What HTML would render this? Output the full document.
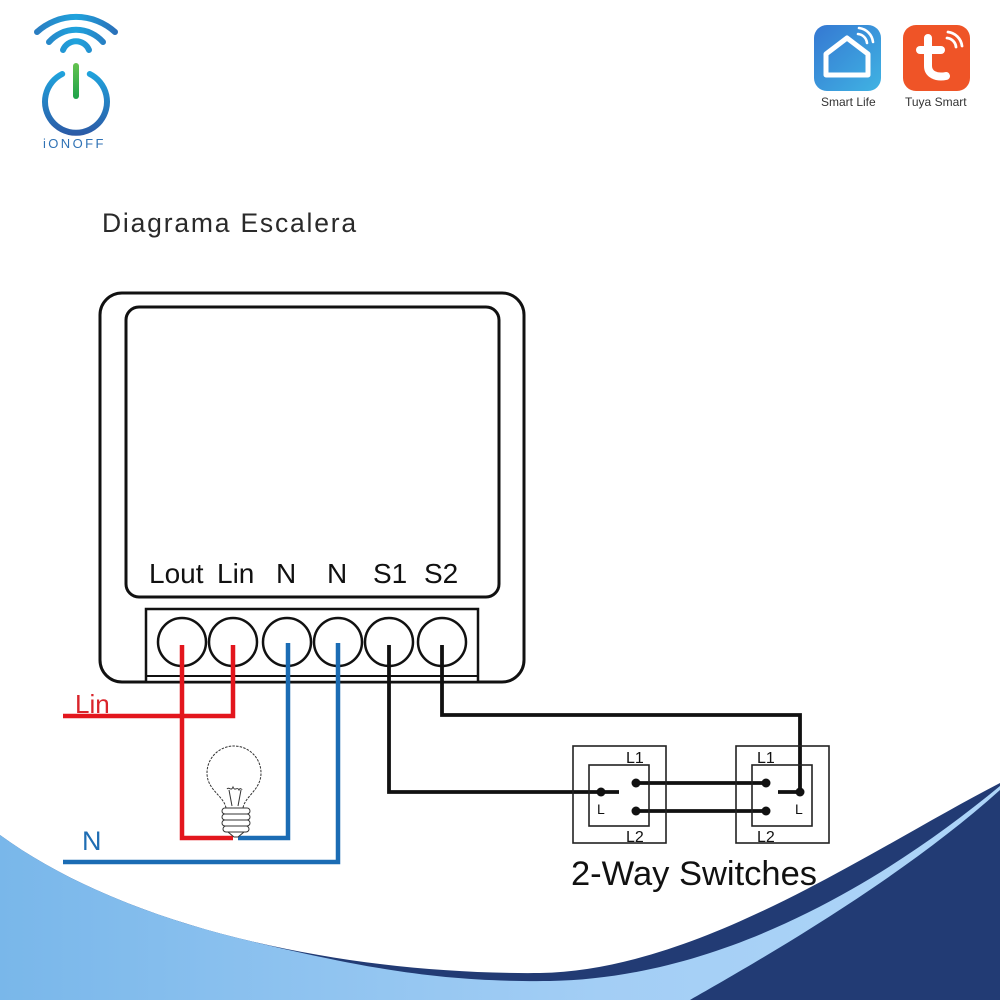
<!DOCTYPE html>
<html>
<head>
<meta charset="utf-8">
<style>
html,body{margin:0;padding:0;background:#fff;}
svg{display:block;}
</style>
</head>
<body>
<svg width="1000" height="1000" viewBox="0 0 1000 1000" xmlns="http://www.w3.org/2000/svg">
<defs>
  <linearGradient id="lb" x1="0" y1="0" x2="1" y2="0">
    <stop offset="0" stop-color="#79b7ea"/>
    <stop offset="0.6" stop-color="#a3cef5"/>
    <stop offset="1" stop-color="#aed5f8"/>
  </linearGradient>
  <linearGradient id="wifi" gradientUnits="userSpaceOnUse" x1="35" y1="0" x2="117" y2="0">
    <stop offset="0" stop-color="#2a7cc0"/>
    <stop offset="0.5" stop-color="#1fa3dd"/>
    <stop offset="1" stop-color="#2a6fb8"/>
  </linearGradient>
  <linearGradient id="ring" gradientUnits="userSpaceOnUse" x1="0" y1="70" x2="0" y2="135">
    <stop offset="0" stop-color="#1fa6df"/>
    <stop offset="1" stop-color="#2b5aa6"/>
  </linearGradient>
  <linearGradient id="grn" gradientUnits="userSpaceOnUse" x1="0" y1="64" x2="0" y2="98">
    <stop offset="0" stop-color="#62c24f"/>
    <stop offset="1" stop-color="#1fa34a"/>
  </linearGradient>
  <linearGradient id="sl" x1="0" y1="0" x2="1" y2="1">
    <stop offset="0" stop-color="#3578d2"/>
    <stop offset="1" stop-color="#40b3e3"/>
  </linearGradient>
</defs>

<!-- bottom background -->
<path d="M0,835 C130,930 350,975 540,973 C700,970 870,850 1000,783 L1000,1000 L0,1000 Z" fill="#223b74"/>
<path d="M0,835 C65,882.5 152.5,917.5 247.5,940.4 C380,972 450,982 550,981 C720,978 880,885 1000,786 L1000,1000 L0,1000 Z" fill="url(#lb)"/>
<path d="M690,1000 C760,960 900,880 1000,790 L1000,1000 Z" fill="#223b74"/>

<!-- iONOFF logo -->
<g fill="none" stroke="url(#wifi)" stroke-width="6" stroke-linecap="round">
  <path d="M37,32 A58,58 0 0 1 115,32"/>
  <path d="M49,42 A36,36 0 0 1 103,42"/>
  <path d="M63,50 A14,14 0 0 1 89,50"/>
</g>
<path d="M62.2,74 A31,31 0 1 0 89.8,74" fill="none" stroke="url(#ring)" stroke-width="6" stroke-linecap="round"/>
<line x1="76" y1="66" x2="76" y2="96" stroke="url(#grn)" stroke-width="6" stroke-linecap="round"/>
<text x="43" y="148" font-family="Liberation Sans, sans-serif" font-size="13" letter-spacing="2.4" fill="#2f72b5">iONOFF</text>

<!-- Smart Life icon -->
<rect x="814" y="25" width="67" height="66" rx="13" fill="url(#sl)"/>
<path d="M826,75 L826,54 L847,38 L868,54 L868,75 Z" fill="none" stroke="#fff" stroke-width="5" stroke-linejoin="round"/>
<g fill="none" stroke="#fff" stroke-width="2.6" stroke-linecap="round">
  <path d="M858,34 A10,10 0 0 1 867,43"/>
  <path d="M859,28 A16,16 0 0 1 873,42"/>
</g>
<text x="821" y="106" font-family="Liberation Sans, sans-serif" font-size="12" fill="#333">Smart Life</text>

<!-- Tuya icon -->
<rect x="903" y="25" width="67" height="66" rx="13" fill="#ef5427"/>
<path d="M928,38 L928,66 C928,74 936,78 946,76" fill="none" stroke="#fff" stroke-width="8" stroke-linecap="round"/>
<line x1="920" y1="50" x2="941" y2="50" stroke="#fff" stroke-width="8" stroke-linecap="round"/>
<g fill="none" stroke="#fff" stroke-width="2.8" stroke-linecap="round">
  <path d="M947,38 A10,10 0 0 1 956,47"/>
  <path d="M948,32 A16,16 0 0 1 962,46"/>
</g>
<text x="905" y="106" font-family="Liberation Sans, sans-serif" font-size="12" fill="#333">Tuya Smart</text>

<!-- Title -->
<text x="102" y="232" font-family="Liberation Sans, sans-serif" font-size="26.5" letter-spacing="1.8" fill="#2a2a2a">Diagrama Escalera</text>

<!-- Module -->
<rect x="100" y="293" width="424" height="389" rx="22" fill="#fff" stroke="#111" stroke-width="3"/>
<rect x="126" y="307" width="373" height="290" rx="13" fill="#fff" stroke="#111" stroke-width="3"/>
<g font-family="Liberation Sans, sans-serif" font-size="28" fill="#111">
  <text x="149" y="583">Lout</text>
  <text x="217" y="583">Lin</text>
  <text x="276" y="583">N</text>
  <text x="327" y="583">N</text>
  <text x="373" y="583">S1</text>
  <text x="424" y="583">S2</text>
</g>
<rect x="146" y="609" width="332" height="73" fill="#fff" stroke="#111" stroke-width="2.5"/>
<line x1="146" y1="676" x2="478" y2="676" stroke="#111" stroke-width="2"/>
<g fill="none" stroke="#111" stroke-width="2.5">
  <circle cx="182" cy="642" r="24"/>
  <circle cx="233" cy="642" r="24"/>
  <circle cx="287" cy="642" r="24"/>
  <circle cx="338" cy="642" r="24"/>
  <circle cx="389" cy="642" r="24"/>
  <circle cx="442" cy="642" r="24"/>
</g>

<!-- Wires -->
<g fill="none" stroke-linejoin="miter" stroke-linecap="butt">
  <polyline points="182,645 182,838 233,838" stroke="#e3161d" stroke-width="4.5"/>
  <polyline points="233,645 233,716 63,716" stroke="#e3161d" stroke-width="4.5"/>
  <polyline points="238,838 288,838 288,643" stroke="#1b6cb4" stroke-width="4.5"/>
  <polyline points="338,643 338,862 63,862" stroke="#1b6cb4" stroke-width="4.5"/>
  <polyline points="389,645 389,792 619,792" stroke="#111" stroke-width="3.8"/>
  <polyline points="442,645 442,715 800,715 800,792 778,792" stroke="#111" stroke-width="3.8"/>
  <line x1="636" y1="783" x2="766" y2="783" stroke="#111" stroke-width="3.8"/>
  <line x1="636" y1="811" x2="766" y2="811" stroke="#111" stroke-width="3.8"/>
</g>
<text x="75" y="713" font-family="Liberation Sans, sans-serif" font-size="26" fill="#d9242b">Lin</text>
<text x="82" y="850" font-family="Liberation Sans, sans-serif" font-size="27" fill="#1f6db3">N</text>

<!-- Bulb -->
<g fill="#fff" stroke="#333" stroke-width="1">
  <path d="M226,808 C224,796 207,790 207,773 A27,27 0 1 1 261,773 C261,790 245,796 243,808" stroke-dasharray="2.5,1.2"/>
  <path d="M227,789 C229,786 231,792 233,787 C235,792 237,786 239,790 C240,787 242,790 242,789" fill="none"/>
  <path d="M229,790 L232,806 M241,790 L238,806" fill="none"/>
  <rect x="222" y="808" width="28" height="6" rx="3"/>
  <rect x="222" y="814" width="28" height="6" rx="3"/>
  <rect x="222" y="820" width="28" height="6" rx="3"/>
  <rect x="223" y="826" width="26" height="6" rx="3"/>
  <path d="M228,832 L244,832 L238,837 L234,837 Z"/>
</g>

<!-- Switches -->
<g fill="none" stroke="#222" stroke-width="1.6">
  <rect x="573" y="746" width="93" height="97"/>
  <rect x="589" y="765" width="60" height="61"/>
  <rect x="736" y="746" width="93" height="97"/>
  <rect x="752" y="765" width="60" height="61"/>
</g>
<g fill="#111">
  <circle cx="601" cy="792" r="4.5"/>
  <circle cx="636" cy="783" r="4.5"/>
  <circle cx="636" cy="811" r="4.5"/>
  <circle cx="766" cy="783" r="4.5"/>
  <circle cx="766" cy="811" r="4.5"/>
  <circle cx="800" cy="792" r="4.5"/>
</g>
<g font-family="Liberation Sans, sans-serif" font-size="16" fill="#111">
  <text x="626" y="763">L1</text>
  <text x="626" y="842">L2</text>
  <text x="757" y="763">L1</text>
  <text x="757" y="842">L2</text>
</g>
<g font-family="Liberation Sans, sans-serif" font-size="14" fill="#111">
  <text x="597" y="814">L</text>
  <text x="795" y="814">L</text>
</g>
<text x="571" y="885" font-family="Liberation Sans, sans-serif" font-size="34.5" fill="#111">2-Way Switches</text>
</svg>
</body>
</html>
